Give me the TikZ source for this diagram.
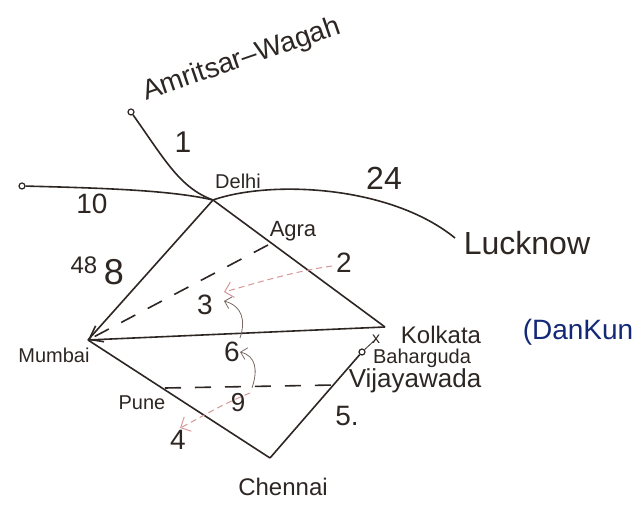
\documentclass[tikz,border=0pt]{standalone}
\usepackage{fontspec}
\setmainfont{Liberation Sans}
\usetikzlibrary{arrows.meta}
\definecolor{ink}{RGB}{45,38,35}
\definecolor{pen}{RGB}{20,40,120}
\definecolor{faintred}{RGB}{215,150,150}
\definecolor{faintgray}{RGB}{120,105,100}
\tikzset{
  road/.style={draw=ink, line width=0.8pt},
  route/.style={draw=ink, line width=0.8pt, dash pattern=on 8pt off 7pt},
  note/.style={draw=faintgray, line width=0.4pt, -{Straight Barb[length=3pt]}},
  rednote/.style={draw=faintred, line width=0.5pt, densely dashed, -{Straight Barb[length=4pt]}},
  lbl/.style={inner sep=0pt, text=ink},
  pt/.style={circle, draw=ink, line width=0.6pt, inner sep=0pt, minimum size=3pt},
}
\begin{document}
\begin{tikzpicture}[x=0.5pt, y=-0.5pt]
\useasboundingbox (0,0) rectangle (637,507);
% junctions
\coordinate (delhi) at (213,200);
\coordinate (mumbai) at (88,340);
\coordinate (kolkata) at (385,327);
\coordinate (chennai) at (270,458);
\coordinate (lucknowend) at (455,238);
\coordinate (agrapt) at (268,245);
\coordinate (punept) at (165,388);
\coordinate (vijapt) at (335,385);
\coordinate (xmark) at (376,339);
\node[pt] (amr) at (131,112) {};
\node[pt] (west) at (22,186) {};
\node[pt] (bahar) at (362,352) {};
% roads
\draw[road] (amr) .. controls (165,160) and (180,188) .. (delhi);
\draw[road] (west) .. controls (100,188) and (170,190) .. (delhi);
\draw[road] (delhi) .. controls (270,180) and (390,185) .. (lucknowend);
\draw[road] (delhi) -- (mumbai);
\draw[road] (delhi) -- (kolkata);
\draw[road] (mumbai) -- (kolkata);
\draw[road] (mumbai) -- (chennai);
\draw[road] (chennai) -- (bahar);
\draw[road, line width=0.4pt] (bahar) -- (xmark);
\node[lbl, font=\fontsize{8}{8}\selectfont] (xm) at (xmark) {x};
% dashed routes
\draw[route, -{Straight Barb[length=6pt, width=9pt]}] (agrapt) -- (mumbai);
\draw[route] (punept) -- (vijapt);
% annotation arrows
\draw[rednote] (332,266) .. controls (290,272) and (250,285) .. (224,292);
\draw[note] (240,338) .. controls (246,320) and (242,306) .. (224,301);
\draw[note] (252,388) .. controls (258,370) and (256,356) .. (240,352);
\draw[rednote] (250,393) .. controls (220,405) and (200,418) .. (180,428);
% labels
\node[lbl, rotate=19, font=\fontsize{14}{14}\selectfont] (lamr) at (242,60) {Amritsar–Wagah};
\node[lbl, font=\fontsize{15}{15}\selectfont] (l1) at (183,142) {1};
\node[lbl, font=\fontsize{14}{14}\selectfont] (l10) at (92,204) {10};
\node[lbl, font=\fontsize{10}{10}\selectfont] (ldelhi) at (238,181) {Delhi};
\node[lbl, font=\fontsize{16}{16}\selectfont] (l24) at (384,178) {24};
\node[lbl, font=\fontsize{16}{16}\selectfont] (lluck) at (527,243) {Lucknow};
\node[lbl, font=\fontsize{11}{11}\selectfont] (lagra) at (293,231) {Agra};
\node[lbl, font=\fontsize{14}{14}\selectfont] (l2) at (344,263) {2};
\node[lbl, font=\fontsize{12}{12}\selectfont] (l48) at (84,265) {48};
\node[lbl, font=\fontsize{18}{18}\selectfont] (l8) at (114,272) {8};
\node[lbl, font=\fontsize{14}{14}\selectfont] (l3) at (205,305) {3};
\node[lbl, font=\fontsize{14}{14}\selectfont] (l6) at (232,352) {6};
\node[lbl, font=\fontsize{10}{10}\selectfont] (lmum) at (54,355) {Mumbai};
\node[lbl, font=\fontsize{10}{10}\selectfont] (lpune) at (142,403) {Pune};
\node[lbl, font=\fontsize{13}{13}\selectfont] (l9) at (238,403) {9};
\node[lbl, font=\fontsize{14}{14}\selectfont] (l4) at (178,440) {4};
\node[lbl, font=\fontsize{14}{14}\selectfont] (l5) at (347,416) {5.};
\node[lbl, font=\fontsize{12}{12}\selectfont] (lchen) at (283,487) {Chennai};
\node[lbl, font=\fontsize{12}{12}\selectfont] (lkol) at (441,335) {Kolkata};
\node[lbl, text=pen, font=\fontsize{14}{14}\selectfont] (ldank) at (578,332) {(DanKun};
\node[lbl, font=\fontsize{10}{10}\selectfont] (lbah) at (422,358) {Baharguda};
\node[lbl, font=\fontsize{13}{13}\selectfont] (lvija) at (415,381) {Vijayawada};
\end{tikzpicture}
\end{document}
